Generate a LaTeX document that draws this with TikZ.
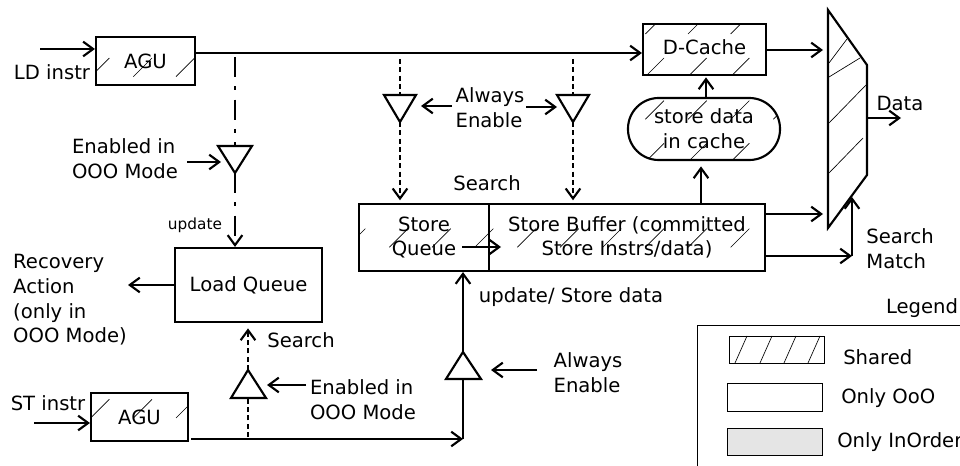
\documentclass[tikz,border=0pt]{standalone}
\usepackage{fontspec}
\setmainfont{DejaVu Sans}
\usetikzlibrary{arrows.meta,patterns.meta}
\tikzdeclarepattern{
  name=sparsehatch,
  type=uncolored,
  bounding box={(-1pt,-1pt) and (33pt,33pt)},
  tile size={(32pt,32pt)},
  code={\pgfsetlinewidth{0.5pt}\pgfpathmoveto{\pgfpoint{4pt}{4pt}}\pgfpathlineto{\pgfpoint{18pt}{18pt}}\pgfusepath{stroke}}
}
\begin{document}
\begin{tikzpicture}[x=0.75pt,y=-0.75pt,
 font=\fontsize{14.7}{18.5}\selectfont,
 lw/.style={line width=1.6pt},
 arr/.style={lw,-{Straight Barb[length=7.5pt,width=11pt]}},
 box/.style={draw,lw,inner sep=0pt,align=center},
 hatched/.style={pattern=sparsehatch},
 dotline/.style={lw,dash pattern=on 3.8pt off 2.4pt},
 dashdot/.style={lw,dash pattern=on 15pt off 7pt on 3pt off 7pt},
 tri/.style={lw,line join=miter},
 lbl/.style={inner sep=0pt,align=left},
 thinbox/.style={draw,line width=0.7pt},
]
\useasboundingbox (0,0) rectangle (960,466);
\clip (0,0) rectangle (960,466);

% ---------- boxes ----------
\node[box,hatched,minimum width=74.25pt,minimum height=36pt] (agu1) at (145.5,61) {AGU};
\node[box,hatched,minimum width=92.25pt,minimum height=38.25pt] (dc) at (704.5,49.5) {\raisebox{3pt}{D-Cache}};
\node[box,hatched,rounded corners=23pt,minimum width=114pt,minimum height=46.5pt] (sdc) at (704,129) {store data\\in cache};
\node[box,hatched,minimum width=97.5pt,minimum height=50.25pt] (sq) at (424,237.5) {Store\\Queue};
\node[box,hatched,minimum width=207pt,minimum height=50.25pt] (sb) at (627,237.5) {Store Buffer (committed\\Store Instrs/data)};
\node[box,minimum width=110.25pt,minimum height=55.5pt] (lq) at (248.5,285) {Load Queue};
\node[box,hatched,minimum width=72.75pt,minimum height=36pt] (agu2) at (139.5,417) {AGU};

% ---------- mux ----------
\draw[tri] (828,10) -- (867,65) -- (867,175) -- (828,228) -- cycle;
\draw[line width=0.5pt] (829,63) -- (847,39) (829,77) -- (860,58) (829,123) -- (866,85) (829,173) -- (863,138);
\coordinate (muxin1) at (823,50);
\coordinate (muxin2) at (823,214);
\coordinate (muxout) at (867,118);
\coordinate (muxbot) at (852,197);
\coordinate (dataend) at (901,118);

% ---------- triangles ----------
\draw[tri] (384,95) -- (416,95) -- (400,122) -- cycle;
\coordinate (t1b) at (400,95); \coordinate (t1a) at (400,122);
\draw[tri] (557,95) -- (589,95) -- (573,122) -- cycle;
\coordinate (t2b) at (573,95); \coordinate (t2a) at (573,122);
\draw[tri] (218,146) -- (252,146) -- (235,173) -- cycle;
\coordinate (t3b) at (235,146); \coordinate (t3a) at (235,173);
\draw[tri] (231,398) -- (266,398) -- (248,370) -- cycle;
\coordinate (t4b) at (248,398); \coordinate (t4a) at (248,370);
\draw[tri] (446,379) -- (481,379) -- (463,352) -- cycle;
\coordinate (t5b) at (463,379); \coordinate (t5a) at (463,352);

% ---------- labels ----------
\node[lbl] (ldtxt) at (52,72) {LD instr};
\node[lbl] (en1txt) at (125,159) {Enabled in\\OOO Mode};
\node[lbl,font=\fontsize{11.5}{13}\selectfont] (updtxt) at (195,225) {update};
\node[lbl] (ae1txt) at (490,108) {Always\\Enable};
\node[lbl] (srch1) at (487,183) {Search};
\node[lbl] (rectxt) at (70,300) {Recovery\\Action\\(only in\\OOO Mode)};
\node[lbl] (srch2) at (301,340) {Search};
\node[lbl] (en2txt) at (363,400) {Enabled in\\OOO Mode};
\node[lbl] (sttxt) at (48,403) {ST instr};
\node[lbl] (updst) at (571,297) {update/ Store data};
\node[lbl] (ae2txt) at (588,373) {Always\\Enable};
\node[lbl] (datatxt) at (900,103) {Data};
\node[lbl] (smtxt) at (900,249) {Search\\Match};

% ---------- connectors ----------
\coordinate (ldin) at (40,49);
\draw[arr] (ldin) -- (ldin -| agu1.west);
\coordinate (ldl) at (197,53);
\draw[arr] (ldl -| agu1.east) -- (ldl -| dc.west);
\coordinate (d1s) at (400,59);
\draw[dotline] (d1s) -- (t1b);
\draw[arr,dotline,shorten >=2pt] (t1a) -- (t1a |- sq.north);
\coordinate (d2s) at (573,59);
\draw[dotline] (d2s) -- (t2b);
\draw[arr,dotline,shorten >=2pt] (t2a) -- (t2a |- sb.north);
\coordinate (d3s) at (235,57);
\draw[dashdot] (d3s) -- (t3b);
\draw[arr,dashdot] (t3a) -- (t3a |- lq.north);
\coordinate (en1s) at (187,162); \coordinate (en1e) at (221,162);
\draw[arr] (en1s) -- (en1e);
\coordinate (ae1s) at (452,106); \coordinate (ae1e) at (421,106);
\draw[arr] (ae1s) -- (ae1e);
\coordinate (ae2s) at (526,107); \coordinate (ae2e) at (557,107);
\draw[arr] (ae2s) -- (ae2e);
\coordinate (rec) at (128,285);
\draw[arr] (lq.west) -- (rec);
\coordinate (stin) at (34,423);
\draw[arr] (stin) -- (stin -| agu2.west);
\coordinate (bl) at (191,439); \coordinate (bend) at (463,439);
\draw[arr] (bl) -- (bend);
\coordinate (d4s) at (248,437);
\draw[dotline] (d4s) -- (t4b);
\draw[arr,dotline,shorten >=4pt] (t4a) -- (t4a |- lq.south);
\coordinate (en2s) at (306,385); \coordinate (en2e) at (267,385);
\draw[arr] (en2s) -- (en2e);
\draw[lw] (bend) -- (t5b);
\draw[arr] (t5a) -- (t5a |- sq.south);
\coordinate (ae3s) at (537,370); \coordinate (ae3e) at (491,370);
\draw[arr] (ae3s) -- (ae3e);
\coordinate (qa) at (462,247); \coordinate (qae) at (501,247);
\draw[arr] (qa) -- (qae);
\coordinate (sbx) at (701,0);
\draw[arr,shorten >=4pt] (sbx |- sb.north) -- (sbx |- sdc.south);
\coordinate (sdx) at (706,0);
\draw[arr,shorten >=1pt] (sdx |- sdc.north) -- (sdx |- dc.south);
\draw[arr] (dc.east |- muxin1) -- (muxin1);
\draw[arr] (muxin2 -| sb.east) -- (muxin2);
\coordinate (smc) at (852,256);
\draw[arr] (smc -| sb.east) -- (smc);
\draw[arr] (smc) -- (muxbot);
\draw[arr] (muxout) -- (dataend);

% ---------- legend ----------
\node[lbl] (legtxt) at (922,308) {Legend};
\draw[thinbox] (697,480) -- (697,325) -- (980,325);
\node[thinbox,minimum width=71.25pt,minimum height=20.25pt,inner sep=0] (lg1) at (776.5,349.5) {};
\draw[line width=0.5pt] (735,363) -- (747,336) (760,363) -- (772,336) (784,363) -- (796,336) (808,363) -- (820,336);
\node[lbl,anchor=west] (lg1t) at (843,357) {Shared};
\node[thinbox,minimum width=71.25pt,minimum height=21pt,inner sep=0] (lg2) at (774.5,397) {};
\node[lbl,anchor=west] (lg2t) at (841,398) {Only OoO};
\node[thinbox,fill=black!10,minimum width=71.25pt,minimum height=20.25pt,inner sep=0] (lg3) at (774.5,441.5) {};
\node[lbl,anchor=west] (lg3t) at (837,442) {Only InOrder};
\end{tikzpicture}
\end{document}
